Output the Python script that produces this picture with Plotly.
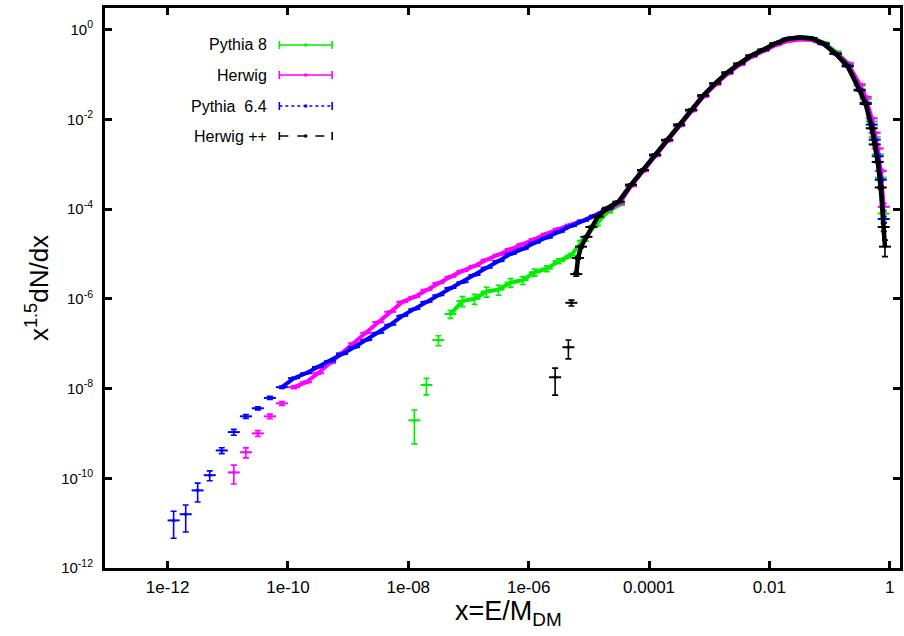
import plotly.graph_objects as go

# ---------------- data ----------------
x_grid = [
    1.26e-12, 2.00e-12, 3.16e-12, 5.01e-12, 7.94e-12,
    1.26e-11, 2.00e-11, 3.16e-11, 5.01e-11, 7.94e-11,
    1.26e-10, 2.00e-10, 3.16e-10, 5.01e-10, 7.94e-10,
    1.26e-9, 2.00e-9, 3.16e-9, 5.01e-9, 7.94e-9,
    1.26e-8, 2.00e-8, 3.16e-8, 5.01e-8, 7.94e-8,
    1.26e-7, 2.00e-7, 3.16e-7, 5.01e-7, 7.94e-7,
    1.26e-6, 2.00e-6, 3.16e-6, 5.01e-6, 7.94e-6,
    1.26e-5, 2.00e-5, 3.16e-5, 5.01e-5, 7.94e-5,
    1.26e-4, 2.00e-4, 3.16e-4, 5.01e-4, 7.94e-4,
    1.26e-3, 2.00e-3, 3.16e-3, 5.01e-3, 7.94e-3,
    1.26e-2, 2.00e-2, 3.16e-2, 5.01e-2, 7.94e-2,
    0.126, 0.200, 0.316, 0.398, 0.501, 0.562, 0.631, 0.708, 0.794,
]

# Pythia 6.4 (blue) -- full grid
pythia64_y = [
    1.15e-11, 1.58e-11, 5.37e-11, 1.17e-10, 4.17e-10,
    1.07e-9, 2.40e-9, 3.63e-9, 6.17e-9, 1.07e-8,
    1.70e-8, 2.19e-8, 3.02e-8, 4.07e-8, 5.89e-8,
    8.32e-8, 1.20e-7, 1.74e-7, 2.63e-7, 4.17e-7,
    5.89e-7, 8.51e-7, 1.20e-6, 1.74e-6, 2.34e-6,
    3.39e-6, 4.90e-6, 6.92e-6, 1.00e-5, 1.29e-5,
    1.78e-5, 2.29e-5, 3.09e-5, 4.17e-5, 5.50e-5,
    7.08e-5, 1.00e-4, 1.45e-4,
    3.47e-4, 7.41e-4, 1.62e-3, 3.47e-3, 7.59e-3, 1.62e-2, 3.39e-2, 6.31e-2,
    0.110, 0.174, 0.263, 0.355, 0.490, 0.631, 0.676, 0.646, 0.479,
    0.288, 0.158, 4.57e-2, 2.34e-2, 7.6e-3, 3.5e-3, 1.5e-3, 4.5e-4, 6.0e-5,
]
pythia64_rel = [0.6, 0.6, 0.45, 0.25, 0.15, 0.15, 0.1, 0.08, 0.08, 0.06, 0.05]
pythia64_tail_rel = [0.05, 0.08, 0.15]

# Herwig (magenta) -- starts at grid index 5
herwig_start = 5
herwig_y = [
    1.35e-10, 3.80e-10, 1.00e-9, 2.40e-9, 4.68e-9,
    1.07e-8, 1.38e-8, 2.19e-8, 3.72e-8, 6.17e-8,
    1.02e-7, 1.74e-7, 3.02e-7, 5.13e-7, 8.51e-7,
    1.10e-6, 1.58e-6, 2.24e-6, 3.09e-6, 4.17e-6,
    5.37e-6, 7.41e-6, 9.55e-6, 1.29e-5, 1.66e-5,
    2.14e-5, 2.82e-5, 3.63e-5, 4.47e-5, 5.50e-5,
    7.08e-5, 9.55e-5, 1.32e-4,
    3.24e-4, 6.92e-4, 1.51e-3, 3.24e-3, 7.08e-3, 1.51e-2, 3.16e-2, 5.89e-2,
    0.102, 0.162, 0.245, 0.331, 0.447, 0.550, 0.603, 0.589, 0.468,
    0.302, 0.174, 6.03e-2, 3.16e-2, 1.05e-2, 5.01e-3, 2.24e-3, 7.08e-4, 1.12e-4,
]
herwig_rel = [0.45, 0.25, 0.15, 0.12, 0.1, 0.08, 0.06, 0.05]
herwig_tail_rel = [0.05, 0.08, 0.2]

# Pythia 8 (green) -- starts at grid index 20
pythia8_start = 20
pythia8_y = [
    1.95e-9, 1.20e-8, 1.20e-7, 4.57e-7, 8.91e-7,
    1.00e-6, 1.45e-6, 1.60e-6, 2.30e-6, 2.60e-6,
    3.90e-6, 4.70e-6, 6.90e-6, 9.20e-6, 1.95e-5,
    4.27e-5, 8.32e-5, 1.23e-4,
    3.31e-4, 7.24e-4, 1.58e-3, 3.47e-3, 7.59e-3, 1.62e-2, 3.39e-2, 6.31e-2,
    0.110, 0.174, 0.263, 0.363, 0.501, 0.617, 0.661, 0.646, 0.513,
    0.324, 0.182, 5.62e-2, 2.82e-2, 8.91e-3, 3.98e-3, 1.66e-3, 5.01e-4, 7.94e-5,
]
pythia8_rel = [0.7, 0.4, 0.25, 0.2, 0.25, 0.25, 0.25, 0.25, 0.22, 0.2, 0.18, 0.15, 0.12, 0.1, 0.08, 0.06]
pythia8_tail_rel = [0.05, 0.08, 0.2]

# Herwig++ (black) -- own binning
herwigpp_x = [
    2.75e-6, 4.57e-6, 5.13e-6, 6.17e-6, 6.61e-6, 7.41e-6, 9.12e-6, 1.10e-5,
    1.41e-5, 2.09e-5, 3.09e-5,
    5.01e-5, 7.94e-5, 1.26e-4, 2.00e-4, 3.16e-4, 5.01e-4, 7.94e-4,
    1.26e-3, 2.00e-3, 3.16e-3, 5.01e-3, 7.94e-3,
    1.26e-2, 2.00e-2, 3.16e-2, 5.01e-2, 7.94e-2,
    0.126, 0.200, 0.316, 0.398, 0.501, 0.562, 0.631, 0.708, 0.794, 0.832,
]
herwigpp_y = [
    1.78e-8, 8.32e-8, 8.13e-7, 3.55e-6, 8.13e-6, 1.45e-5, 2.40e-5, 3.98e-5,
    6.76e-5, 1.07e-4, 1.45e-4,
    3.47e-4, 7.41e-4, 1.62e-3, 3.47e-3, 7.59e-3, 1.62e-2, 3.39e-2,
    6.31e-2, 0.110, 0.174, 0.263, 0.355,
    0.490, 0.617, 0.661, 0.631, 0.490,
    0.288, 0.151, 4.37e-2, 2.19e-2, 6.31e-3, 2.75e-3, 1.12e-3, 3.02e-4, 3.98e-5, 1.45e-5,
]
herwigpp_rel = [0.6, 0.45, 0.15, 0.1, 0.06, 0.05]
herwigpp_tail_rel = [0.08, 0.2, 0.4]

x_tickvals = [1e-12, 1e-10, 1e-8, 1e-6, 1e-4, 1e-2, 1]
x_ticktext = ["1e-12", "1e-10", "1e-08", "1e-06", "0.0001", "0.01", "1"]
y_tickvals = [1e-12, 1e-10, 1e-8, 1e-6, 1e-4, 1e-2, 1]
y_ticktext = ["10<sup>-12</sup>", "10<sup>-10</sup>", "10<sup>-8</sup>", "10<sup>-6</sup>",
              "10<sup>-4</sup>", "10<sup>-2</sup>", "10<sup>0</sup>"]

series_names = ["Pythia 8", "Herwig", "Pythia  6.4", "Herwig ++"]
series_colors = ["#00ee00", "#ff00ff", "#0000ff", "#000000"]
series_dash = ["solid", "solid", "dot", "dash"]
# index from which the dense bins merge into a continuous band
band_start = [3, 5, 9, 3]
band_width = [4, 4, 4, 4.5]

# ---------------- helpers ----------------
HALF_BIN = 0.1  # half bin width in decades
DEFAULT_REL = 0.035


def rel_list(n, head, tail):
    mid = n - len(head) - len(tail)
    return head + [DEFAULT_REL] * mid + tail


def add_series(fig, x, y, head, tail, color, start, lw):
    # continuous band where bins are dense
    fig.add_trace(go.Scatter(
        x=x[start:], y=y[start:], mode="lines", showlegend=False,
        line=dict(color=color, width=lw), hoverinfo="skip"))
    rel = rel_list(len(y), head, tail)
    up = [v * r for v, r in zip(y, rel)]
    dn = [v * min(r, 0.85) for v, r in zip(y, rel)]
    xp = [v * (10 ** HALF_BIN - 1) for v in x]
    xm = [v * (1 - 10 ** -HALF_BIN) for v in x]
    fig.add_trace(go.Scatter(
        x=x, y=y, mode="markers", showlegend=False,
        marker=dict(color=color, size=3.5, line=dict(width=0)),
        error_y=dict(type="data", symmetric=False, array=up, arrayminus=dn,
                     color=color, thickness=1.6, width=3),
        error_x=dict(type="data", symmetric=False, array=xp, arrayminus=xm,
                     color=color, thickness=2, width=0),
        hoverinfo="skip",
    ))


fig = go.Figure()
add_series(fig, x_grid[pythia8_start:], pythia8_y, pythia8_rel, pythia8_tail_rel,
           series_colors[0], band_start[0], band_width[0])
add_series(fig, x_grid[herwig_start:], herwig_y, herwig_rel, herwig_tail_rel,
           series_colors[1], band_start[1], band_width[1])
add_series(fig, x_grid, pythia64_y, pythia64_rel, pythia64_tail_rel,
           series_colors[2], band_start[2], band_width[2])
add_series(fig, herwigpp_x, herwigpp_y, herwigpp_rel, herwigpp_tail_rel,
           series_colors[3], band_start[3], band_width[3])

# ---------------- custom legend (text left of sample, gnuplot style) ----------------
W, H = 904, 636
ML, MR, MT, MB = 105, 1, 8, 68
PW, PH = W - ML - MR, H - MT - MB


def px_to_paper(xp, yp):
    return (xp - ML) / PW, (H - MB - yp) / PH


legend_y_px = [45, 75, 106, 136]
shapes = []
annotations = []
for name, color, dash, yp in zip(series_names, series_colors, series_dash, legend_y_px):
    tx, ty = px_to_paper(270, yp)
    annotations.append(dict(x=tx, y=ty, xref="paper", yref="paper", text=name,
                            showarrow=False, xanchor="right", yanchor="middle",
                            font=dict(family="Liberation Sans, Arial, sans-serif", size=16, color="black")))
    x0, _ = px_to_paper(280, yp)
    x1, _ = px_to_paper(333, yp)
    _, yc = px_to_paper(0, yp)
    _, yt = px_to_paper(0, yp - 4)
    _, yb = px_to_paper(0, yp + 4)
    shapes.append(dict(type="line", xref="paper", yref="paper", x0=x0, x1=x1, y0=yc, y1=yc,
                       line=dict(color=color, width=1.6, dash=dash)))
    for xe in (x0, x1):
        shapes.append(dict(type="line", xref="paper", yref="paper", x0=xe, x1=xe, y0=yb, y1=yt,
                           line=dict(color=color, width=1.6)))
    _, ym0 = px_to_paper(0, yp - 1.5)
    _, ym1 = px_to_paper(0, yp + 1.5)
    xm0, _ = px_to_paper(305, yp)
    xm1, _ = px_to_paper(308, yp)
    shapes.append(dict(type="rect", xref="paper", yref="paper", x0=xm0, x1=xm1, y0=ym1, y1=ym0,
                       line=dict(width=0), fillcolor=color))

# x-axis title placed as annotation below the tick labels
_, xt_y = px_to_paper(0, 594)
xt_x, _ = px_to_paper(510, 0)
annotations.append(dict(x=xt_x, y=xt_y, xref="paper", yref="paper", text="x=E/M<sub>DM</sub>",
                        showarrow=False, xanchor="center", yanchor="top",
                        font=dict(family="Liberation Sans, Arial, sans-serif", size=27, color="black")))

fig.update_layout(
    width=W, height=H,
    margin=dict(l=ML, r=MR, t=MT, b=MB),
    paper_bgcolor="white", plot_bgcolor="white",
    font=dict(family="Liberation Sans, Arial, sans-serif", color="black"),
    shapes=shapes, annotations=annotations,
    xaxis=dict(
        type="log", range=[-13.04, 0.17],
        tickvals=x_tickvals, ticktext=x_ticktext,
        ticks="inside", ticklen=7, tickwidth=3, tickcolor="black",
        showline=True, linewidth=3, linecolor="black", mirror="ticks",
        showgrid=False, zeroline=False, ticklabelstandoff=2,
        tickfont=dict(size=17, color="black"),
    ),
    yaxis=dict(
        type="log", range=[-12, 0.48],
        tickvals=y_tickvals, ticktext=y_ticktext,
        ticks="inside", ticklen=7, tickwidth=3, tickcolor="black",
        showline=True, linewidth=3, linecolor="black", mirror="ticks",
        showgrid=False, zeroline=False, ticklabelstandoff=6,
        tickfont=dict(size=15, color="black"),
        title=dict(text="x<sup>1.5</sup>dN/dx", font=dict(size=26, color="black"), standoff=6),
    ),
)

fig.write_html("out.html")
